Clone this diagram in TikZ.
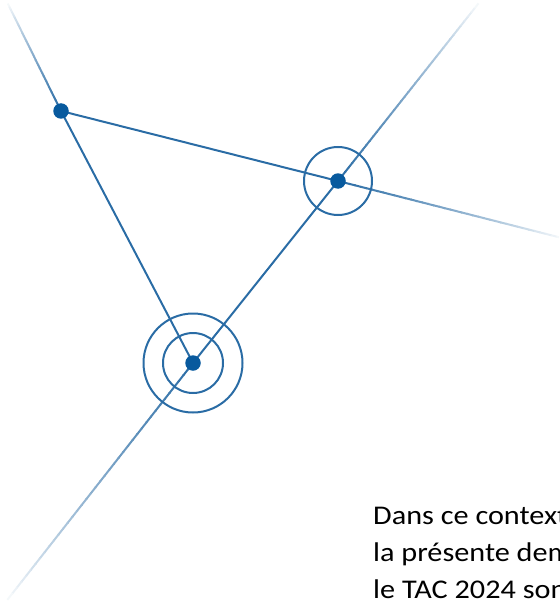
\documentclass[tikz,border=0pt]{standalone}
\usepackage{fontspec}
\setmainfont{Carlito}[FakeStretch=1.12]
\usetikzlibrary{calc}
\definecolor{lineblue}{RGB}{42,108,165}
\definecolor{dotblue}{RGB}{8,90,158}
\tikzset{
  link/.style={draw=lineblue, line width=2pt},
  ring/.style={draw=lineblue, line width=2pt, circle, inner sep=0pt, minimum size=#1},
  dot/.style={fill=dotblue, circle, inner sep=0pt, minimum size=15.5pt},
  caption/.style={anchor=base west, font=\fontsize{27}{32}\selectfont, text=black, inner sep=0pt},
}
\newcommand{\fadeline}[2]{%
  \foreach \i in {0,...,39}{%
    \pgfmathsetmacro{\ta}{\i/40}%
    \pgfmathsetmacro{\tb}{(\i+1.15)/40}%
    \pgfmathtruncatemacro{\pc}{100*(1-\i/40)^0.8}%
    \draw[link, draw=lineblue!\pc!white] ($(#1)!\ta!(#2)$) -- ($(#1)!\tb!(#2)$);
  }%
}
\begin{document}
\begin{tikzpicture}[x=1pt,y=-1pt]
\useasboundingbox (0,0) rectangle (559,607);
\clip (0,0) rectangle (559,607);
\coordinate (A) at (61,111);
\coordinate (B) at (338,181);
\coordinate (C) at (193,363);
\coordinate (ETL) at (8,4);
\coordinate (ER) at (562,238);
\coordinate (ETR) at (478,4);
\coordinate (EBL) at (8,599);
% faded ends
\fadeline{A}{ETL}
\fadeline{B}{ER}
\fadeline{B}{ETR}
\fadeline{C}{EBL}
% solid lines
\draw[link] (A) -- (B);
\draw[link] (A) -- (C);
\draw[link] (B) -- (C);
% rings
\node[ring=68pt] (rB) at (B) {};
\node[ring=60pt] (rC1) at (C) {};
\node[ring=99pt] (rC2) at (C) {};
% dots
\node[dot] (dA) at (A) {};
\node[dot] (dB) at (B) {};
\node[dot] (dC) at (C) {};
% text (cut off at the right edge, as in the reference)
\node[caption] (t1) at (373,524) {Dans ce contexte};
\node[caption] (t2) at (373,561) {la présente demande};
\node[caption] (t3) at (373,598) {le TAC 2024 sont};
\end{tikzpicture}
\end{document}
